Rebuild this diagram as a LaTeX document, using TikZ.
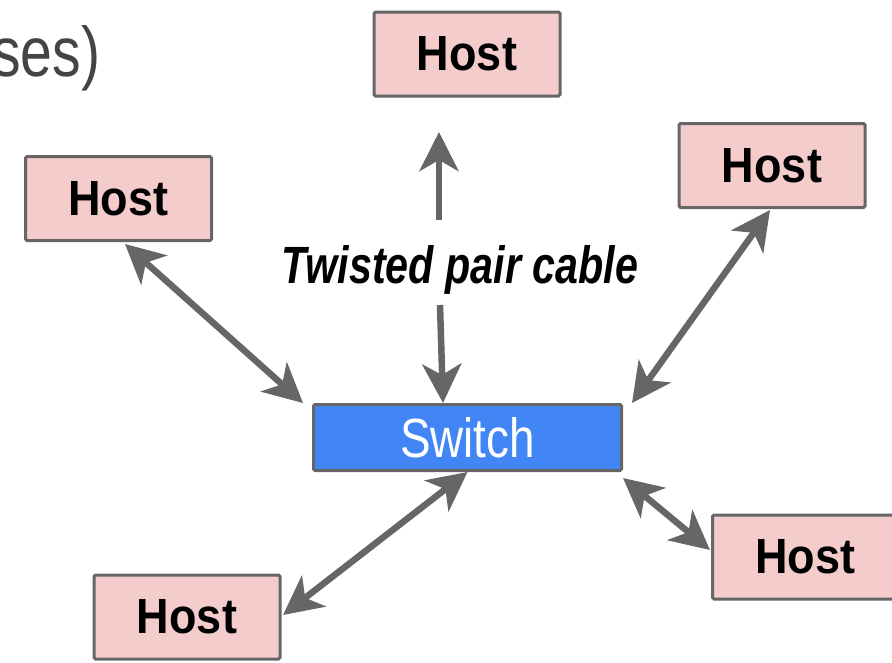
\documentclass[tikz,border=0pt]{standalone}
\usepackage{fontspec}
\usepackage{graphicx}
\setmainfont{Liberation Sans}
\usetikzlibrary{arrows.meta,calc}
\definecolor{edgegray}{HTML}{666666}
\definecolor{hostfill}{HTML}{F4CCCC}
\definecolor{swfill}{HTML}{4285F4}
\definecolor{sesgray}{HTML}{444444}
\newcommand\hosttext{\resizebox{100pt}{34pt}{\bfseries Host}}
\begin{document}
\begin{tikzpicture}[x=1pt,y=-1pt,
  >={Stealth[length=39pt,width=39pt,inset=11pt]},
  hostbox/.style={draw=edgegray, line width=3pt, fill=hostfill, minimum width=186pt, minimum height=84pt, inner sep=0pt, rounded corners=1.5pt},
  swbox/.style={draw=edgegray, line width=3pt, fill=swfill, minimum width=308pt, minimum height=66pt, inner sep=0pt, rounded corners=1.5pt, text=white},
  link/.style={draw=edgegray, line width=6.5pt}
]
\useasboundingbox (0,0) rectangle (892,662);
\clip (0,0) rectangle (892,662);

\node[anchor=base west, inner sep=0pt, text=sesgray] (ses) at (-8,76) {\resizebox{108pt}{51pt}{ses)}};

\node[hostbox] (ht)  at (467,54)      {\hosttext};
\node[hostbox] (hl)  at (118.5,198.5) {\hosttext};
\node[hostbox] (hr)  at (772,165.5)   {\hosttext};
\node[hostbox] (hbr) at (805.5,557)   {\hosttext};
\node[hostbox] (hbl) at (187,617)     {\hosttext};
\node[swbox]   (sw)  at (467.5,437.5) {\resizebox{135pt}{40pt}{Switch}};

\node[anchor=base, inner sep=0pt] (lbl) at (460,283) {\resizebox{356pt}{38pt}{\bfseries\itshape Twisted pair cable}};

\draw[link,->] ($(lbl.base)+(-21,-63)$) -- ($(ht.south)+(-28,34.5)$);
\draw[link,->] ($(lbl.base)+(-20,22)$) -- ($(sw.north)+(-24.5,0)$);
\draw[link,<->] ($(hl.south)+(6.5,2)$) -- ($(sw.north west)+(-9,0)$);
\draw[link,<->] ($(hr.south)+(-2,1)$) -- ($(sw.north east)+(9,0)$);
\draw[link,<->] (sw.south) -- ($(hbl.east)+(1.5,-2)$);
\draw[link,<->] ($(sw.south east)+(0,6)$) -- ($(hbr.west)+(-1,-7)$);
\end{tikzpicture}
\end{document}
